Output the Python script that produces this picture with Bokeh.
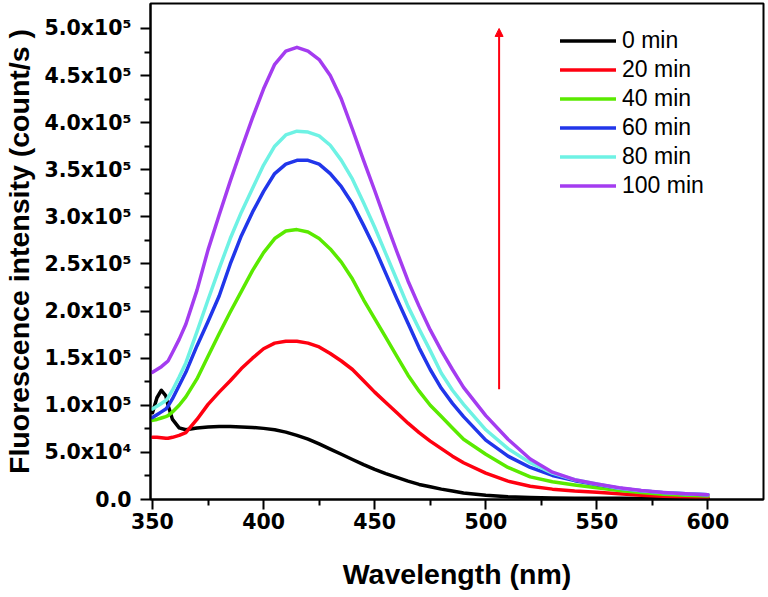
import numpy as np
from bokeh.plotting import figure
from bokeh.models import (Range1d, FixedTicker, Legend, LegendItem, Arrow, NormalHead)
from bokeh.embed import file_html
from bokeh.resources import INLINE

# ---------------- data (intensities in thousands of counts/s) ----------------
wavelength = [350, 352, 354, 356, 357, 359, 362, 365, 370, 375, 380, 385, 390, 395,
              400, 405, 410, 415, 420, 425, 430, 435, 440, 445, 450, 455, 460, 465,
              470, 475, 480, 485, 490, 500, 510, 520, 530, 540, 550, 560, 570, 580,
              590, 600]

i_0min = [92, 108, 116, 110, 100, 85, 76, 74, 76, 77, 77.5, 77.5, 77, 76.5,
          75.5, 74, 71.5, 68, 64, 59, 53.5, 48, 42.5, 37, 32, 27.5, 23.5, 19.5,
          16, 13.5, 11, 9, 7, 4.5, 2.8, 2, 1.6, 1.4, 1.3, 1.2, 1.1, 1, 1, 1]
i_20min = [66, 66, 65.5, 65, 65, 66, 68, 71, 85, 101, 114, 126, 139, 150,
           160, 166, 168, 168, 166, 162, 155, 147, 138, 126, 114, 103, 92, 81,
           71, 62, 54, 46, 39, 28, 19.5, 14, 11, 9, 7.8, 6, 4.5, 3.5, 2.7, 2]
i_40min = [84, 85, 86.5, 88, 89, 93, 100, 109, 128, 152, 176, 199, 221, 243,
           262, 277, 285, 286.5, 284, 277, 266, 252, 234, 212, 192, 172, 152, 132,
           115, 100, 88, 76, 64, 48, 34, 24, 18.8, 15.5, 12.4, 9.5, 7.3, 5.5, 4.5, 3.6]
i_60min = [87, 90, 93, 96, 99, 107, 121, 135, 163, 189, 216, 250, 280, 305,
           327, 346, 356, 360, 360, 356, 346, 332, 314, 291, 267, 240, 213, 187,
           161, 138, 118, 102, 88, 63, 46, 34, 25.5, 20, 16, 12, 9.3, 7.3, 6, 5]
i_80min = [96, 99, 102, 105, 108, 116, 130, 145, 178, 212, 245, 277, 305, 330,
           355, 375, 387, 391, 390, 386, 376, 360, 340, 315, 289, 261, 233, 205,
           181, 158, 134, 116, 101, 74, 54, 39, 28, 21, 16.5, 12, 9.3, 7.3, 6, 5]
i_100min = [135, 138, 141, 145, 147, 156, 170, 186, 222, 265, 302, 338, 372, 405,
            436, 462, 476, 480, 476, 467, 450, 425, 393, 360, 328, 295, 263, 232,
            205, 180, 158, 138, 119, 89, 64, 43, 29, 21, 16.5, 12.5, 9.5, 7.5, 6, 5]

series_labels = ["0 min", "20 min", "40 min", "60 min", "80 min", "100 min"]
series_colors = ["#000000", "#FF0010", "#5AEA00", "#2136EA", "#6EF2E4", "#A43CF0"]

x_ticks = [350, 400, 450, 500, 550, 600]
x_minor = [375, 425, 475, 525, 575]
y_ticks = [0, 50000, 100000, 150000, 200000, 250000, 300000, 350000, 400000, 450000, 500000]
y_minor = [25000, 75000, 125000, 175000, 225000, 275000, 325000, 375000, 425000, 475000]
y_tick_labels = ["0.0", "5.0x10\u2074", "1.0x10\u2075", "1.5x10\u2075", "2.0x10\u2075",
                 "2.5x10\u2075", "3.0x10\u2075", "3.5x10\u2075", "4.0x10\u2075",
                 "4.5x10\u2075", "5.0x10\u2075"]

arrow_x = [506, 506]
arrow_y = [117000, 500000]

# ---------------- figure ----------------
p = figure(width=766, height=595, output_backend="svg", toolbar_location=None,
           x_range=Range1d(349.1, 625), y_range=Range1d(0, 526500),
           min_border_left=148, min_border_right=3, min_border_top=3, min_border_bottom=96)
p.xgrid.visible = False
p.ygrid.visible = False
p.outline_line_color = "black"
p.outline_line_width = 2
p.background_fill_color = "white"
p.border_fill_color = "white"

series = [i_0min, i_20min, i_40min, i_60min, i_80min, i_100min]
x_arr = np.array(wavelength, dtype=float)
items = []
for vals, lab, col in zip(series, series_labels, series_colors):
    r = p.line(x_arr, np.array(vals, dtype=float) * 1000, line_color=col,
               line_width=3.5, line_join="round", line_cap="round")
    items.append(LegendItem(label=lab, renderers=[r]))

# arrow
p.add_layout(Arrow(x_start=arrow_x[0], y_start=arrow_y[0], x_end=arrow_x[1], y_end=arrow_y[1],
                   line_color="#FF0010", line_width=2,
                   end=NormalHead(size=8, fill_color="#FF0010", line_color="#FF0010", line_width=1)))

# axes
for ax in (p.xaxis[0], p.yaxis[0]):
    ax.axis_line_width = 2
    ax.major_tick_line_width = 2
    ax.minor_tick_line_width = 2
    ax.major_tick_in = 0
    ax.major_tick_out = 10
    ax.minor_tick_in = 0
    ax.minor_tick_out = 6
    ax.major_label_text_font = "DejaVu Sans"
    ax.major_label_text_font_style = "bold"
    ax.major_label_text_font_size = "20.5px"
    ax.major_label_text_color = "black"
    ax.axis_label_text_font = "Liberation Sans"
    ax.axis_label_text_font_style = "bold"
    ax.axis_label_text_font_size = "28.5px"
    ax.axis_label_text_color = "black"

p.xaxis.ticker = FixedTicker(ticks=x_ticks, minor_ticks=x_minor)
p.yaxis.ticker = FixedTicker(ticks=y_ticks, minor_ticks=y_minor)
p.yaxis.major_label_overrides = {t: s for t, s in zip(y_ticks, y_tick_labels)}
p.xaxis.axis_label = "Wavelength (nm)"
p.yaxis.axis_label = "Fluorescence intensity (count/s )"
p.xaxis.major_label_standoff = 3
p.xaxis.axis_label_standoff = 26
p.yaxis.major_label_standoff = 9
p.yaxis.axis_label_standoff = 6

legend = Legend(items=items, location=(410, 299), orientation="vertical",
                label_text_font="Liberation Sans", label_text_font_size="23px",
                label_text_color="black", glyph_width=56, glyph_height=29,
                label_height=29, label_standoff=6, spacing=0, padding=0, margin=0,
                border_line_color=None, background_fill_alpha=0)
p.add_layout(legend)

open("out.html", "w").write(file_html(p, INLINE))
